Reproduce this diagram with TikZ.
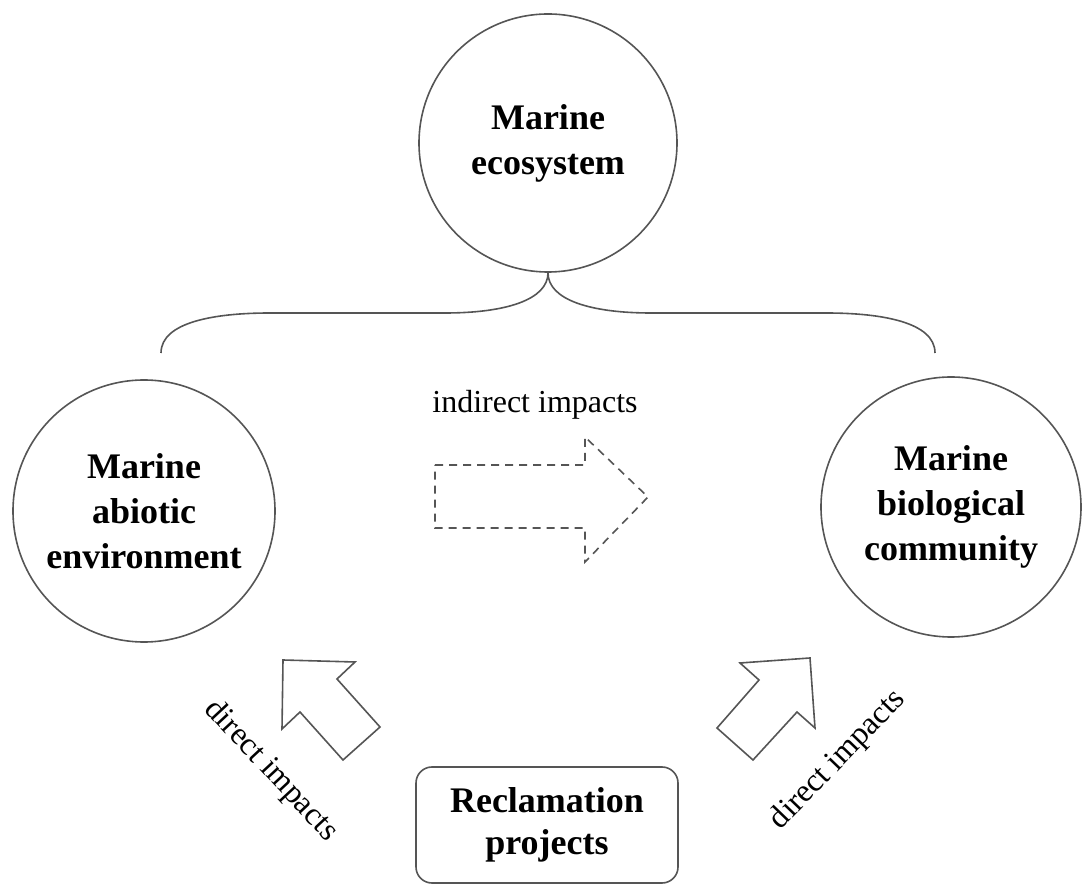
\documentclass[tikz,border=0pt]{standalone}
\usepackage{fontspec}
\setmainfont{Liberation Serif}
\usetikzlibrary{positioning}

\definecolor{linegray}{HTML}{555555}

\tikzset{
  blob/.style={circle, draw=linegray, line width=0.8pt, inner sep=0pt,
    align=center, font=\fontsize{18}{22.5}\selectfont\bfseries},
  projbox/.style={draw=linegray, line width=0.8pt, rounded corners=8pt,
    minimum width=131pt, minimum height=58pt, align=center,
    font=\fontsize{18}{21}\selectfont\bfseries},
  impact/.style={font=\fontsize{16}{18}\selectfont},
  blockarrow/.style={draw=linegray, line width=0.8pt, line join=miter},
}

\begin{document}
\begin{tikzpicture}[x=0.5pt, y=-0.5pt]
    \useasboundingbox (0,0) rectangle (1082,886);

    % the three circles
    \node[blob, minimum size=129pt] (eco) at (548,143) {Marine\\ecosystem};
    \node[blob, minimum size=131pt] (abio) at (144,511) {Marine\\abiotic\\environment};
    \node[blob, minimum size=130pt] (bio) at (951,507) {Marine\\biological\\community};

    % the brace
    \coordinate (bl) at (161,353);
    \coordinate (br) at (935,353);
    \draw[linegray, line width=0.8pt] (bl) .. controls (161,322) and (215,313) .. (270,313)
      -- (445,313) .. controls (505,313) and (eco.south |- 0,300) .. (eco.south);
    \draw[linegray, line width=0.8pt] (br) .. controls (935,322) and (881,313) .. (826,313)
      -- (651,313) .. controls (591,313) and (eco.south |- 0,300) .. (eco.south);

    % indirect impacts
    \node[impact] (ind) at (535,405) {indirect impacts};
    \draw[linegray, line width=0.8pt, dash pattern=on 4pt off 3pt]
      (435,465) -- (585,465) -- (585,437) -- (648,497) -- (585,562) -- (585,528) -- (435,528) -- cycle;

    % direct impacts
    \draw[blockarrow] (283,660) -- (355,662) -- (337,679) -- (380,727) -- (343,760)
      -- (300,712) -- (282,729) -- cycle;
    \draw[blockarrow] (810,658) -- (740,663) -- (759,680) -- (717,728) -- (753,760)
      -- (797,712) -- (815,728) -- cycle;
    \node[impact, rotate=-47] (dl) at (271,771) {direct impacts};
    \node[impact, rotate=46] (dr) at (838,760) {direct impacts};

    % projects
    \node[projbox] (proj) at (547,825) {Reclamation\\projects};
\end{tikzpicture}
\end{document}
